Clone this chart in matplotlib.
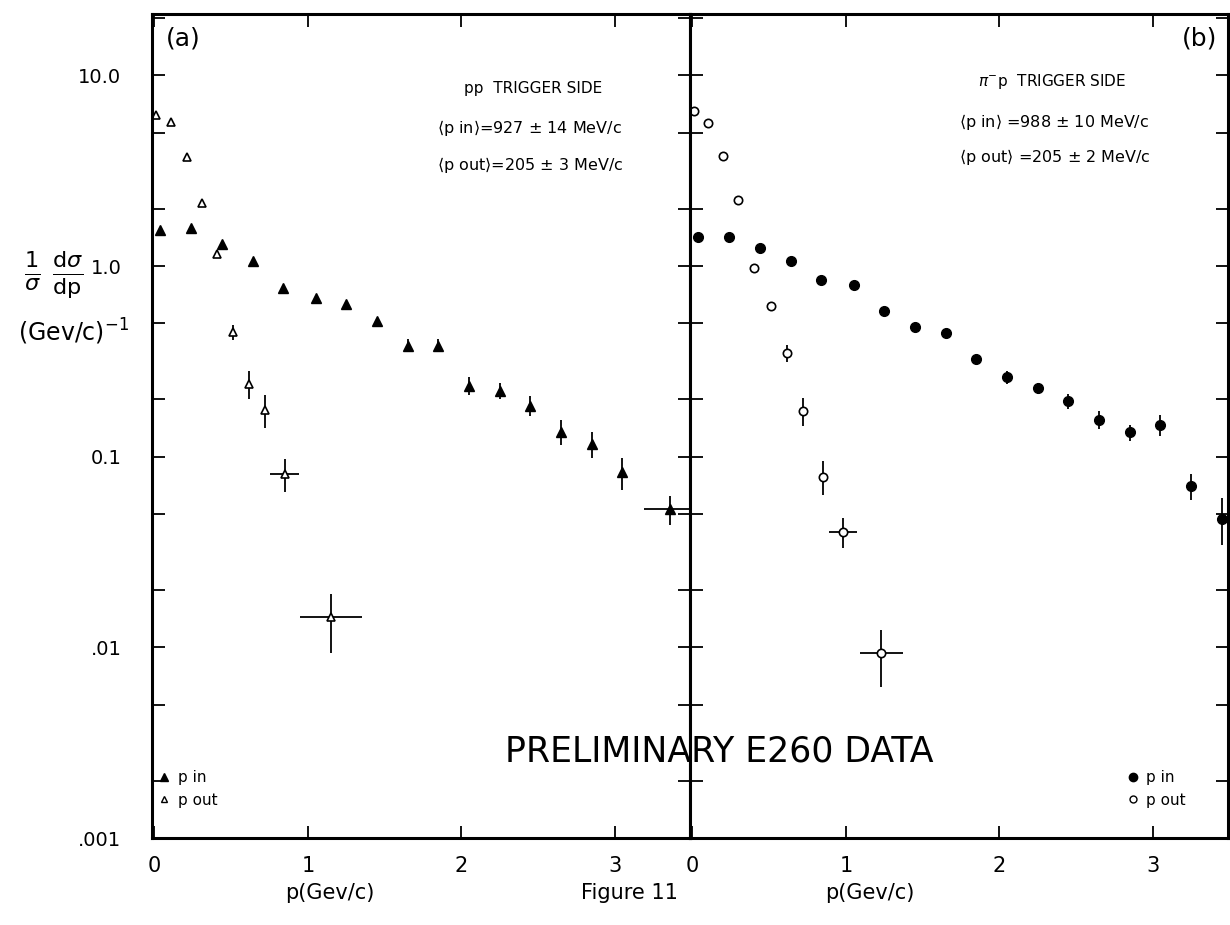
import numpy as np
import matplotlib
matplotlib.use("Agg")
import matplotlib.pyplot as plt
from matplotlib.lines import Line2D
from matplotlib.ticker import LogLocator, FixedLocator, NullFormatter

plt.rcParams["font.family"] = ["DejaVu Sans"]
plt.rcParams["mathtext.fontset"] = "dejavusans"

# (a) pp trigger side, p in (filled triangles)
pp_in_x = [0.04, 0.24, 0.44, 0.64, 0.84, 1.05, 1.25, 1.45, 1.65, 1.85,
           2.05, 2.25, 2.45, 2.65, 2.85, 3.05]
pp_in_y = [1.54, 1.58, 1.31, 1.06, 0.77, 0.68, 0.635, 0.515, 0.382, 0.382,
           0.236, 0.222, 0.185, 0.135, 0.117, 0.083]
pp_in_err = [0.03, 0.03, 0.03, 0.03, 0.02, 0.02, 0.02, 0.02, 0.03, 0.03,
             0.025, 0.022, 0.022, 0.02, 0.018, 0.016]
pp_in_wide_x = [3.36]
pp_in_wide_xerr = [0.17]
pp_in_wide_y = [0.053]
pp_in_wide_err = [0.009]

# (a) pp trigger side, p out (open triangles)
pp_out_x = [0.01, 0.11, 0.21, 0.31, 0.41, 0.51, 0.62, 0.72]
pp_out_y = [6.2, 5.68, 3.71, 2.14, 1.16, 0.45, 0.241, 0.176]
pp_out_err = [0.15, 0.15, 0.1, 0.06, 0.04, 0.04, 0.041, 0.035]
pp_out_wide_x = [0.85, 1.15]
pp_out_wide_xerr = [0.095, 0.2]
pp_out_wide_y = [0.081, 0.0145]
pp_out_wide_lo = [0.016, 0.0052]
pp_out_wide_hi = [0.016, 0.0046]

# (b) pi- p trigger side, p in (filled circles)
pip_in_x = [0.04, 0.24, 0.44, 0.64, 0.84, 1.05, 1.25, 1.45, 1.65, 1.85,
            2.05, 2.25, 2.45, 2.65, 2.85, 3.05, 3.25, 3.45]
pip_in_y = [1.42, 1.42, 1.25, 1.06, 0.849, 0.793, 0.58, 0.481, 0.444, 0.325,
            0.261, 0.229, 0.196, 0.156, 0.134, 0.147, 0.0706, 0.0474]
pip_in_err = [0.03, 0.03, 0.03, 0.03, 0.02, 0.02, 0.015, 0.015, 0.015, 0.015,
              0.02, 0.015, 0.018, 0.017, 0.013, 0.018, 0.011, 0.013]

# (b) pi- p trigger side, p out (open circles)
pip_out_x = [0.01, 0.1, 0.2, 0.3, 0.4, 0.51, 0.615, 0.72, 0.85]
pip_out_y = [6.49, 5.6, 3.78, 2.23, 0.98, 0.614, 0.348, 0.174, 0.0786]
pip_out_err = [0.15, 0.12, 0.08, 0.05, 0.03, 0.03, 0.035, 0.03, 0.016]
pip_out_wide_x = [0.98, 1.23]
pip_out_wide_xerr = [0.09, 0.14]
pip_out_wide_y = [0.0403, 0.00933]
pip_out_wide_lo = [0.0072, 0.0031]
pip_out_wide_hi = [0.0072, 0.003]

x_ticks = [0, 1, 2, 3]
y_major = [0.001, 0.01, 0.1, 1.0, 10.0]
y_labels = [".001", ".01", "0.1", "1.0", "10.0"]

fig = plt.figure(figsize=(12.3, 9.25), dpi=100)
ax_a = fig.add_axes([0.1236, 0.094, 0.4374, 0.891])
ax_b = fig.add_axes([0.561, 0.094, 0.4374, 0.891], sharey=ax_a)

ebkw = dict(ecolor="black", elinewidth=1.3, capsize=0, linestyle="none")

# panel (a)
ax_a.errorbar(pp_in_x, pp_in_y, yerr=pp_in_err, fmt="^", color="black",
              markersize=7.5, **ebkw)
ax_a.errorbar(pp_in_wide_x, pp_in_wide_y, xerr=pp_in_wide_xerr,
              yerr=pp_in_wide_err, fmt="^", color="black", markersize=7.5,
              **ebkw)
ax_a.errorbar(pp_out_x, pp_out_y, yerr=pp_out_err, fmt="^", markersize=6,
              markerfacecolor="white", markeredgecolor="black",
              markeredgewidth=1.2, **ebkw)
ax_a.errorbar(pp_out_wide_x, pp_out_wide_y, xerr=pp_out_wide_xerr,
              yerr=[pp_out_wide_lo, pp_out_wide_hi], fmt="^", markersize=6,
              markerfacecolor="white", markeredgecolor="black",
              markeredgewidth=1.2, **ebkw)

# panel (b)
ax_b.errorbar(pip_in_x, pip_in_y, yerr=pip_in_err, fmt="o", color="black",
              markersize=7, **ebkw)
ax_b.errorbar(pip_out_x, pip_out_y, yerr=pip_out_err, fmt="o", markersize=6,
              markerfacecolor="white", markeredgecolor="black",
              markeredgewidth=1.2, **ebkw)
ax_b.errorbar(pip_out_wide_x, pip_out_wide_y, xerr=pip_out_wide_xerr,
              yerr=[pip_out_wide_lo, pip_out_wide_hi], fmt="o", markersize=6,
              markerfacecolor="white", markeredgecolor="black",
              markeredgewidth=1.2, **ebkw)

for ax in (ax_a, ax_b):
    ax.set_yscale("log")
    ax.set_ylim(1.0e-3, 21)
    ax.set_xlim(-0.015, 3.49)
    ax.xaxis.set_major_locator(FixedLocator(x_ticks))
    ax.yaxis.set_major_locator(FixedLocator(y_major))
    ax.yaxis.set_minor_locator(LogLocator(base=10, subs=(2.0, 5.0)))
    ax.yaxis.set_minor_formatter(NullFormatter())
    ax.tick_params(which="both", direction="in", top=True, right=True,
                   length=9, width=1.3)
    ax.tick_params(axis="x", labelsize=15, pad=13)
    for sp in ax.spines.values():
        sp.set_linewidth(2.2)

ax_a.set_yticklabels(y_labels)
ax_a.tick_params(axis="y", labelsize=14, pad=22)
ax_b.tick_params(axis="y", labelleft=False)
ax_a.set_xticklabels(["0", "1", "2", "3"])
ax_b.set_xticklabels(["0", "1", "2", "3"])

# panel texts
ax_a.text(0.025, 0.985, "(a)", transform=ax_a.transAxes, fontsize=18,
          va="top", ha="left")
ax_b.text(0.98, 0.985, "(b)", transform=ax_b.transAxes, fontsize=18,
          va="top", ha="right")
ax_a.text(0.58, 0.91, "pp  TRIGGER SIDE", transform=ax_a.transAxes,
          fontsize=11, va="center")
ax_a.text(0.53, 0.862, r"$\langle$p in$\rangle$=927 ± 14 MeV/c",
          transform=ax_a.transAxes, fontsize=11.5, va="center")
ax_a.text(0.53, 0.817, r"$\langle$p out$\rangle$=205 ± 3 MeV/c",
          transform=ax_a.transAxes, fontsize=11.5, va="center")
ax_b.text(0.535, 0.918, r"$\pi^{-}$p  TRIGGER SIDE", transform=ax_b.transAxes,
          fontsize=11, va="center")
ax_b.text(0.5, 0.869, r"$\langle$p in$\rangle$ =988 ± 10 MeV/c",
          transform=ax_b.transAxes, fontsize=11.5, va="center")
ax_b.text(0.5, 0.826, r"$\langle$p out$\rangle$ =205 ± 2 MeV/c",
          transform=ax_b.transAxes, fontsize=11.5, va="center")

# legends
leg_a = [Line2D([], [], marker="^", color="black", linestyle="none",
                markersize=6, label="p in"),
         Line2D([], [], marker="^", markerfacecolor="white",
                markeredgecolor="black", linestyle="none", markersize=5,
                label="p out")]
ax_a.legend(handles=leg_a, loc="lower left", bbox_to_anchor=(-0.02, 0.02),
            frameon=False, fontsize=11, handletextpad=0.3, handlelength=1.2,
            labelspacing=0.5)
leg_b = [Line2D([], [], marker="o", color="black", linestyle="none",
                markersize=6, label="p in"),
         Line2D([], [], marker="o", markerfacecolor="white",
                markeredgecolor="black", linestyle="none", markersize=5,
                label="p out")]
ax_b.legend(handles=leg_b, loc="lower left", bbox_to_anchor=(0.78, 0.02),
            frameon=False, fontsize=11, handletextpad=0.3, handlelength=1.2,
            labelspacing=0.5)

# figure texts
fig.text(0.585, 0.188, "PRELIMINARY E260 DATA", fontsize=25, ha="center",
         va="center")
fig.text(0.268, 0.035, "p(Gev/c)", fontsize=15, ha="center", va="center")
fig.text(0.512, 0.035, "Figure 11", fontsize=15, ha="center", va="center")
fig.text(0.707, 0.035, "p(Gev/c)", fontsize=15, ha="center", va="center")
fig.text(0.044, 0.703,
         r"$\frac{1}{\sigma}\ \frac{\mathrm{d}\sigma}{\mathrm{dp}}$",
         fontsize=23, ha="center", va="center")
fig.text(0.06, 0.641, r"(Gev/c)$^{-1}$", fontsize=17, ha="center",
         va="center")

fig.savefig("out.png", dpi=100)
